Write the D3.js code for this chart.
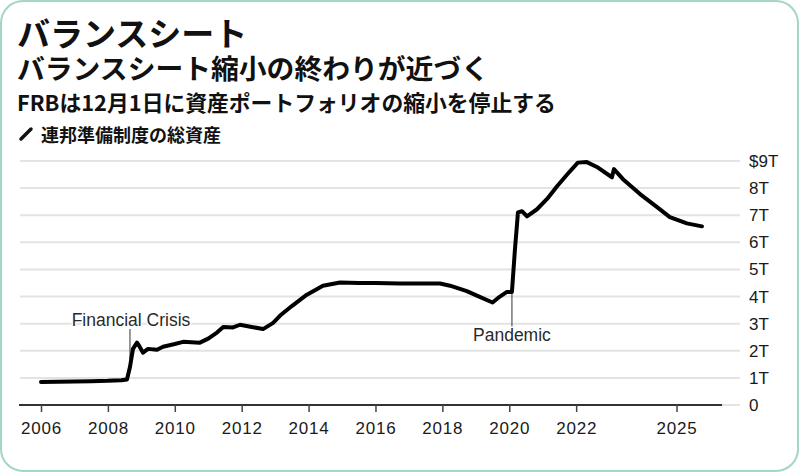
<!DOCTYPE html>
<html>
<head>
<meta charset="utf-8">
<script src="https://cdn.jsdelivr.net/npm/d3@7"></script>
<style>
  body { margin: 0; background: #fff; }
  svg { display: block; }
</style>
</head>
<body>
<div id="chart"></div>
<script>
// decimal years and total assets (trillions of dollars)
var dates = [2006.0, 2006.5, 2007.0, 2007.5, 2008.0, 2008.4, 2008.57, 2008.66, 2008.75, 2008.87,
  2008.95, 2009.05, 2009.2, 2009.47, 2009.65, 2010.0, 2010.25, 2010.75, 2011.0, 2011.26,
  2011.45, 2011.74, 2011.95, 2012.3, 2012.64, 2012.94, 2013.15, 2013.5, 2013.95, 2014.43,
  2014.94, 2015.5, 2016.0, 2016.73, 2017.3, 2017.93, 2018.23, 2018.73, 2019.1, 2019.5,
  2019.72, 2019.93, 2020.08, 2020.17, 2020.26, 2020.38, 2020.53, 2020.83, 2021.13, 2021.43,
  2021.73, 2022.05, 2022.32, 2022.62, 2023.07, 2023.13, 2023.4, 2023.91, 2024.42, 2024.8,
  2025.31, 2025.76];
var assets = [0.85, 0.86, 0.87, 0.88, 0.89, 0.91, 0.94, 1.4, 2.07, 2.3,
  2.15, 1.93, 2.07, 2.04, 2.15, 2.25, 2.33, 2.3, 2.45, 2.67,
  2.88, 2.86, 2.96, 2.88, 2.8, 3.03, 3.3, 3.65, 4.07, 4.4,
  4.52, 4.5, 4.5, 4.48, 4.48, 4.48, 4.4, 4.2, 4.0, 3.78,
  4.0, 4.17, 4.17, 5.74, 7.1, 7.15, 6.96, 7.22, 7.6, 8.07,
  8.5, 8.94, 8.96, 8.78, 8.4, 8.7, 8.33, 7.78, 7.3, 6.93,
  6.7, 6.59];

var xTicks = [2006, 2008, 2010, 2012, 2014, 2016, 2018, 2020, 2022, 2025];
var yTicks = [0, 1, 2, 3, 4, 5, 6, 7, 8, 9];
var yTickLabels = ["0", "1T", "2T", "3T", "4T", "5T", "6T", "7T", "8T", "$9T"];

var annoText = ["Financial Crisis", "Pandemic"];
var annoDate = [2008.66, 2020.08];
var annoValue = [1.4, 4.15];

var title = "バランスシート";
var subtitle = "バランスシート縮小の終わりが近づく";
var note = "FRBは12月1日に資産ポートフォリオの縮小を停止する";
var legendLabel = "連邦準備制度の総資産";

var W = 800, H = 473;
var cjk = "'Noto Sans CJK JP', 'Noto Sans', sans-serif";
var latin = "'Liberation Sans', Arial, sans-serif";

var svg = d3.select("#chart").append("svg")
    .attr("width", W)
    .attr("height", H);

// card
svg.append("rect")
    .attr("x", 1).attr("y", 1)
    .attr("width", W - 3).attr("height", H - 3)
    .attr("rx", 22)
    .attr("fill", "#fff")
    .attr("stroke", "#a5d5c5")
    .attr("stroke-width", 2);

// headings
svg.append("text").attr("x", 17).attr("y", 46)
    .attr("font-family", cjk).attr("font-weight", 700).attr("font-size", 33)
    .attr("fill", "#111").text(title);
svg.append("text").attr("x", 17).attr("y", 79)
    .attr("font-family", cjk).attr("font-weight", 700).attr("font-size", 27.8)
    .attr("fill", "#111").text(subtitle);
svg.append("text").attr("x", 17).attr("y", 111)
    .attr("font-family", cjk).attr("font-weight", 700).attr("font-size", 21.8)
    .attr("fill", "#111").text(note);

// legend
svg.append("line")
    .attr("x1", 21).attr("y1", 139).attr("x2", 31).attr("y2", 129)
    .attr("stroke", "#111").attr("stroke-width", 3.5).attr("stroke-linecap", "round");
svg.append("text").attr("x", 41).attr("y", 142)
    .attr("font-family", cjk).attr("font-weight", 700).attr("font-size", 18)
    .attr("fill", "#111").text(legendLabel);

// scales
var x = d3.scaleLinear().domain([2006, 2025]).range([41, 676.5]);
var y = d3.scaleLinear().domain([0, 9]).range([405, 161]);

// gridlines
svg.append("g").selectAll("line")
    .data(yTicks)
    .enter().append("line")
    .attr("x1", 20).attr("x2", 740)
    .attr("y1", d => y(d)).attr("y2", d => y(d))
    .attr("stroke", "#e3e3e3")
    .attr("stroke-width", 2);

// y labels
svg.append("g").selectAll("text")
    .data(yTicks)
    .enter().append("text")
    .attr("x", 749)
    .attr("y", d => y(d) + 6)
    .attr("font-family", latin).attr("font-size", 17)
    .attr("fill", "#1a1a1a")
    .text((d, i) => yTickLabels[i]);

// zero line
svg.append("line")
    .attr("x1", 19).attr("x2", 722)
    .attr("y1", y(0)).attr("y2", y(0))
    .attr("stroke", "#333").attr("stroke-width", 2);

// x axis
var xAxis = svg.append("g")
    .attr("transform", "translate(0," + y(0) + ")")
    .call(d3.axisBottom(x).tickValues(xTicks).tickFormat(d3.format("d")).tickSize(7).tickPadding(10));
xAxis.select(".domain").remove();
xAxis.selectAll(".tick line").attr("stroke", "#444").attr("stroke-width", 1.5);
xAxis.selectAll(".tick text")
    .attr("font-family", latin).attr("font-size", 17)
    .attr("letter-spacing", 0.8)
    .attr("fill", "#1a1a1a");

// annotations
annoText.forEach(function(t, i) {
  var ax = x(annoDate[i]);
  if (i == 0) {
    svg.append("line")
        .attr("x1", ax).attr("x2", ax)
        .attr("y1", 329).attr("y2", y(annoValue[i]))
        .attr("stroke", "#333").attr("stroke-width", 1);
    svg.append("text").attr("x", ax + 1).attr("y", 326)
        .attr("text-anchor", "middle")
        .attr("font-family", latin).attr("font-size", 17.5)
        .attr("fill", "#2a2a2a")
        .attr("stroke", "#fff").attr("stroke-width", 3).attr("paint-order", "stroke")
        .text(t);
  } else {
    svg.append("line")
        .attr("x1", ax).attr("x2", ax)
        .attr("y1", y(annoValue[i])).attr("y2", 328)
        .attr("stroke", "#333").attr("stroke-width", 1);
    svg.append("text").attr("x", ax).attr("y", 341)
        .attr("text-anchor", "middle")
        .attr("font-family", latin).attr("font-size", 17.5)
        .attr("fill", "#2a2a2a")
        .attr("stroke", "#fff").attr("stroke-width", 3).attr("paint-order", "stroke")
        .text(t);
  }
});

// data line
var series = dates.map((d, i) => ({ t: d, v: assets[i] }));
var line = d3.line()
    .x(d => x(d.t))
    .y(d => y(d.v));

svg.append("path")
    .datum(series)
    .attr("d", line)
    .attr("fill", "none")
    .attr("stroke", "#000")
    .attr("stroke-width", 4)
    .attr("stroke-linejoin", "round")
    .attr("stroke-linecap", "round");
</script>
</body>
</html>
